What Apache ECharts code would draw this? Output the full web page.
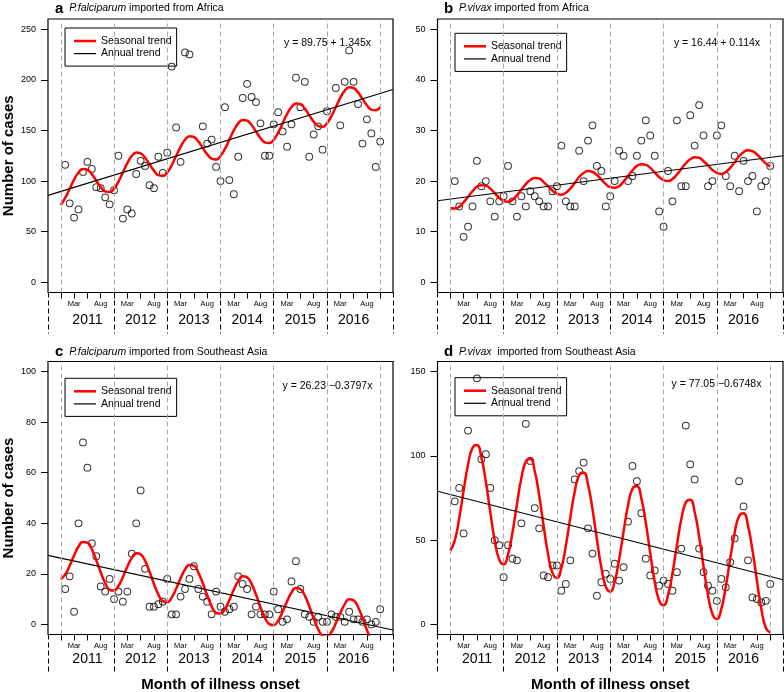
<!DOCTYPE html>
<html><head><meta charset="utf-8">
<script src="https://cdn.jsdelivr.net/npm/echarts@6/dist/echarts.min.js"></script>
<style>html,body{margin:0;padding:0;background:#fff}#c{width:784px;height:692px}</style>
</head><body><div id="c"></div>
<script>
// ---------------- data ----------------
const years = ['2011', '2012', '2013', '2014', '2015', '2016'];
const yearLabelPositions = [6, 18, 30, 42, 54, 66];
const yearBoundaries = [0, 12, 24, 36, 48, 60, 72];
const monthTickPositions = [0,3,6,9,12,15,18,21,24,27,30,33,36,39,42,45,48,51,54,57,60,63,66,69,72];
const monthLabelPositions = [3,9,15,21,27,33,39,45,51,57,63,69];
const monthLabelNames = ['Mar', 'Aug'];
const xExtent = [-2.88, 74.88];
const separatorPositions = [-2.88, 12, 24, 36, 48, 60, 74.88];

const yTicksA = [0, 50, 100, 150, 200, 250];
const yTicksB = [0, 10, 20, 30, 40, 50];
const yTicksC = [0, 20, 40, 60, 80, 100];
const yTicksD = [0, 50, 100, 150];
const yRangeA = [-10, 260];
const yRangeB = [-2, 52];
const yRangeC = [-4, 104];
const yRangeD = [-6, 156];

// monthly case counts Jan 2011 .. Dec 2016 (null = outside plotted range)
const casesPfAfrica = [116,78,64,72,109,119,112,94,93,84,77,91,
  125,63,72,68,107,120,115,96,93,124,108,128,
  213,153,119,227,225,null,null,154,137,141,114,100,
  173,101,87,124,182,196,183,178,157,125,125,156,
  168,149,134,156,202,173,198,124,146,154,131,169,
  null,192,155,198,229,198,176,137,161,147,114,139];
const casesPvAfrica = [20,15,9,11,15,24,19,20,16,13,16,17,
  23,16,13,17,15,18,17,16,15,15,18,19,
  27,16,15,15,26,20,28,31,23,22,15,17,
  20,26,25,20,21,25,28,32,29,25,14,11,
  22,16,32,19,19,33,27,35,29,19,20,29,
  31,21,19,25,18,24,20,21,14,19,20,23];
const casesPfSEAsia = [14,19,5,40,72,62,32,27,15,13,18,10,
  13,9,13,28,40,53,22,7,7,8,9,18,
  4,4,11,14,18,23,14,11,9,4,13,7,
  5,6,7,19,16,14,4,7,4,4,4,13,
  6,1,2,17,25,14,4,3,1,3,1,1,
  4,3,3,1,5,2,2,1,2,0,1,6];
const casesPvSEAsia = [73,81,54,115,null,146,98,101,81,50,47,28,
  47,39,38,60,119,97,69,57,29,28,35,35,
  20,24,38,86,91,96,57,42,17,25,30,27,
  36,26,34,61,94,85,66,39,29,32,23,26,
  24,20,31,45,118,95,86,45,31,23,20,14,
  27,22,37,51,85,70,38,16,15,13,14,24];

// seasonal trend read at each month boundary (index 0 .. 72)
const seasonalPfAfrica = [76.4,83.4,92.4,101.5,108.5,112.0,111.2,106.9,100.5,94.1,89.8,89.1,
  92.5,99.5,108.6,117.7,124.7,128.1,127.4,123.1,116.7,110.3,105.9,105.2,
  108.6,115.6,124.7,133.8,140.8,144.3,143.5,139.2,132.8,126.4,122.1,121.3,
  124.8,131.8,140.9,150.0,157.0,160.4,159.6,155.3,148.9,142.5,138.2,137.5,
  140.9,147.9,157.0,166.1,173.1,176.5,175.8,171.5,165.1,158.7,154.4,153.6,
  157.1,164.1,173.1,182.2,189.2,192.7,191.9,187.6,181.2,174.8,170.5,169.8,173.2];
const seasonalPvAfrica = [14.7,14.6,14.9,15.8,16.9,18.0,18.9,19.2,19.1,18.5,17.6,16.7,
  16.1,15.9,16.3,17.2,18.3,19.4,20.2,20.6,20.5,19.8,19.0,18.1,
  17.5,17.3,17.7,18.5,19.6,20.8,21.6,22.0,21.8,21.2,20.3,19.4,
  18.8,18.7,19.0,19.9,21.0,22.1,23.0,23.3,23.2,22.6,21.7,20.8,
  20.2,20.0,20.4,21.3,22.4,23.5,24.3,24.7,24.6,23.9,23.1,22.2,
  21.6,21.4,21.8,22.6,23.7,24.9,25.7,26.1,25.9,25.3,24.4,23.5,22.9];
const seasonalPfSEAsia = [17.9,19.8,23.2,27.3,30.8,32.6,32.3,29.7,25.4,20.6,16.4,13.7,
  13.4,15.2,18.7,22.8,26.2,28.1,27.7,25.1,20.9,16.0,11.8,9.2,
  8.8,10.7,14.1,18.2,21.7,23.5,23.2,20.5,16.3,11.5,7.2,4.6,
  4.3,6.1,9.6,13.7,17.1,19.0,18.6,16.0,11.8,6.9,2.7,0.1,
  -0.3,1.5,5.0,9.1,12.6,14.4,14.0,11.4,7.2,2.4,-1.9,-4.5,
  -4.9,-3.0,0.5,4.5,8.0,9.9,9.5,6.9,2.6,-2.2,-6.4,-9.0,-9.4];
const seasonalPvSEAsia = [43.7,49.7,62.8,79.4,94.9,104.8,106.4,99.1,84.6,66.6,49.8,38.5,
  35.6,41.6,54.7,71.3,86.8,96.7,98.3,91.0,76.5,58.5,41.7,30.4,
  27.5,33.5,46.6,63.2,78.7,88.6,90.2,82.9,68.4,50.4,33.6,22.3,
  19.4,25.4,38.5,55.1,70.6,80.5,82.1,74.8,60.3,42.3,25.5,14.2,
  11.3,17.3,30.4,47.0,62.5,72.4,74.0,66.7,52.2,34.2,17.4,6.1,
  3.2,9.2,22.3,39.0,54.4,64.3,65.9,58.6,44.1,26.1,9.3,-2.0,-4.9];

// annual trend read at the left and right edge of each plot
const annualPfAfrica = [85.9, 190.5];
const annualPvAfrica = [16.1, 25.0];
const annualPfSEAsia = [27.3, -2.2];
const annualPvSEAsia = [79.0, 26.5];

const equations = ['y = 89.75 + 1.345x', 'y = 16.44 + 0.114x', 'y = 26.23 \u22120.3797x', 'y = 77.05 \u22120.6748x'];
const panelTitles = [
  '{b|a}  {i|P.falciparum} imported from Africa',
  '{b|b}  {i|P.vivax} imported from Africa',
  '{b|c}  {i|P.falciparum} imported from Southeast Asia',
  '{b|d}  {i|P.vivax}  imported from Southeast Asia'
];
const legendNames = ['Seasonal trend', 'Annual trend'];
const yAxisTitle = 'Number of cases';
const xAxisTitle = 'Month of illness onset';

// ---------------- chart ----------------
const FONT = "'Liberation Sans', Arial, Helvetica, sans-serif";
const panelData = [
  {cases: casesPfAfrica, seasonal: seasonalPfAfrica, annual: annualPfAfrica, yTicks: yTicksA, yRange: yRangeA},
  {cases: casesPvAfrica, seasonal: seasonalPvAfrica, annual: annualPvAfrica, yTicks: yTicksB, yRange: yRangeB},
  {cases: casesPfSEAsia, seasonal: seasonalPfSEAsia, annual: annualPfSEAsia, yTicks: yTicksC, yRange: yRangeC},
  {cases: casesPvSEAsia, seasonal: seasonalPvSEAsia, annual: annualPvSEAsia, yTicks: yTicksD, yRange: yRangeD}
];
const layout = [
  {left: 48, top: 19, width: 345, height: 273.5, tl: 55, tt: 1, ll: 65, lt: 28, ex: 327.5, ey: 43.3, yName: true, xName: false, ym: 21, sep: 41},
  {left: 437.5, top: 19, width: 345.5, height: 273.5, tl: 444, tt: 1, ll: 455, lt: 33.3, ex: 717, ey: 43.3, yName: false, xName: false, ym: 21, sep: 41},
  {left: 48, top: 361.5, width: 345, height: 273, tl: 55, tt: 344.5, ll: 65, lt: 378.3, ex: 327.5, ey: 386, yName: true, xName: true, ym: 18, sep: 37},
  {left: 437.5, top: 361.5, width: 345.5, height: 273, tl: 444, tt: 344.5, ll: 455, lt: 377.7, ex: 716.5, ey: 383.7, yName: false, xName: true, ym: 18, sep: 37}
];

const grid = [], xAxis = [], yAxis = [], series = [], title = [], legend = [], graphic = [];
panelData.forEach((p, i) => {
  const L = layout[i];
  grid.push({left: L.left, top: L.top, width: L.width, height: L.height, show: true,
    borderColor: '#000', borderWidth: 1.2, backgroundColor: 'transparent',
    containLabel: false, outerBoundsMode: 'none'});
  xAxis.push({
    gridIndex: i, type: 'value', min: xExtent[0], max: xExtent[1], position: 'bottom',
    axisLine: {show: false, onZero: false}, splitLine: {show: false},
    axisTick: {show: true, customValues: monthTickPositions, length: 6, lineStyle: {color: '#000', width: 1}},
    axisLabel: {show: true, customValues: monthLabelPositions, fontSize: 7.5, margin: 7, color: '#000', fontFamily: FONT,
      formatter: v => monthLabelNames[(Math.round(v) % 12 === 3) ? 0 : 1]}
  });
  xAxis.push({
    gridIndex: i, type: 'value', min: xExtent[0], max: xExtent[1], position: 'bottom',
    axisLine: {show: false, onZero: false}, splitLine: {show: false},
    axisTick: {show: true, customValues: separatorPositions, length: L.sep, lineStyle: {color: '#000', width: 1, type: [5, 3]}},
    axisLabel: {show: true, customValues: yearLabelPositions, fontSize: 14, margin: L.ym, color: '#000', fontFamily: FONT,
      formatter: v => years[yearLabelPositions.indexOf(Math.round(v))]},
    name: L.xName ? xAxisTitle : '', nameLocation: 'middle', nameGap: 43,
    nameTextStyle: {fontSize: 15, fontWeight: 'bold', color: '#000', fontFamily: FONT}
  });
  yAxis.push({
    gridIndex: i, type: 'value', min: p.yRange[0], max: p.yRange[1], position: 'left',
    axisLine: {show: false, onZero: false}, splitLine: {show: false},
    axisTick: {show: true, customValues: p.yTicks, length: 7, lineStyle: {color: '#000', width: 1}},
    axisLabel: {show: true, customValues: p.yTicks, fontSize: 9, margin: 12, color: '#000', fontFamily: FONT},
    name: L.yName ? yAxisTitle : '', nameLocation: 'middle', nameGap: 32,
    nameTextStyle: {fontSize: 15, fontWeight: 'bold', color: '#000', fontFamily: FONT}
  });
  const pts = [];
  p.cases.forEach((v, k) => { if (v !== null) pts.push([k + 1, v]); });
  series.push({
    type: 'scatter', name: 'cases' + i, xAxisIndex: 2 * i, yAxisIndex: i, data: pts,
    symbol: 'circle', symbolSize: 6.8, z: 2,
    itemStyle: {color: 'rgba(0,0,0,0)', borderColor: '#000', borderWidth: 1},
    markLine: {silent: true, symbol: ['none', 'none'], label: {show: false},
      lineStyle: {color: '#aaaaaa', type: [5, 3], width: 1},
      data: yearBoundaries.map(b => ({xAxis: b}))}
  });
  series.push({
    type: 'line', name: legendNames[0], xAxisIndex: 2 * i, yAxisIndex: i,
    data: p.seasonal.map((v, k) => [k, v]), smooth: 0.5, symbol: 'none', z: 3,
    lineStyle: {color: '#ff0000', width: 2.5}, itemStyle: {color: '#ff0000'}
  });
  series.push({
    type: 'line', name: legendNames[1], xAxisIndex: 2 * i, yAxisIndex: i,
    data: [[xExtent[0], p.annual[0]], [xExtent[1], p.annual[1]]], symbol: 'none', z: 3,
    lineStyle: {color: '#000', width: 1.1}, itemStyle: {color: '#000'}
  });
  title.push({
    text: panelTitles[i], left: L.tl, top: L.tt, padding: 0,
    textStyle: {fontSize: 10.5, fontWeight: 'normal', color: '#000', fontFamily: FONT,
      rich: {b: {fontSize: 15, fontWeight: 'bold', fontFamily: FONT, color: '#000'},
             i: {fontSize: 10.5, fontStyle: 'italic', fontFamily: FONT, color: '#000'}}}
  });
  legend.push({
    data: [
      {name: legendNames[0], icon: 'path://M0,0H22V2.5H0Z', itemStyle: {color: '#ff0000', borderWidth: 0}},
      {name: legendNames[1], icon: 'path://M0,0H22V1.2H0Z', itemStyle: {color: '#000', borderWidth: 0}}
    ],
    orient: 'vertical', left: L.ll, top: L.lt, selectedMode: false, symbolKeepAspect: true,
    borderColor: '#000', borderWidth: 1, borderRadius: 0, padding: [7.5, 5, 7, 9],
    itemWidth: 22, itemHeight: 10, itemGap: 1.6, backgroundColor: 'transparent',
    textStyle: {fontSize: 10.5, color: '#000', fontFamily: FONT}
  });
  graphic.push({type: 'text', x: L.ex, y: L.ey, z: 10,
    style: {text: equations[i], fontSize: 10.5, fontFamily: FONT, fill: '#000', align: 'center', verticalAlign: 'middle'}});
});

const chart = echarts.init(document.getElementById('c'), null, {renderer: 'canvas'});
chart.setOption({
  animation: false, backgroundColor: '#fff',
  textStyle: {fontFamily: FONT},
  grid, xAxis, yAxis, series, title, legend, graphic
});
</script></body></html>
